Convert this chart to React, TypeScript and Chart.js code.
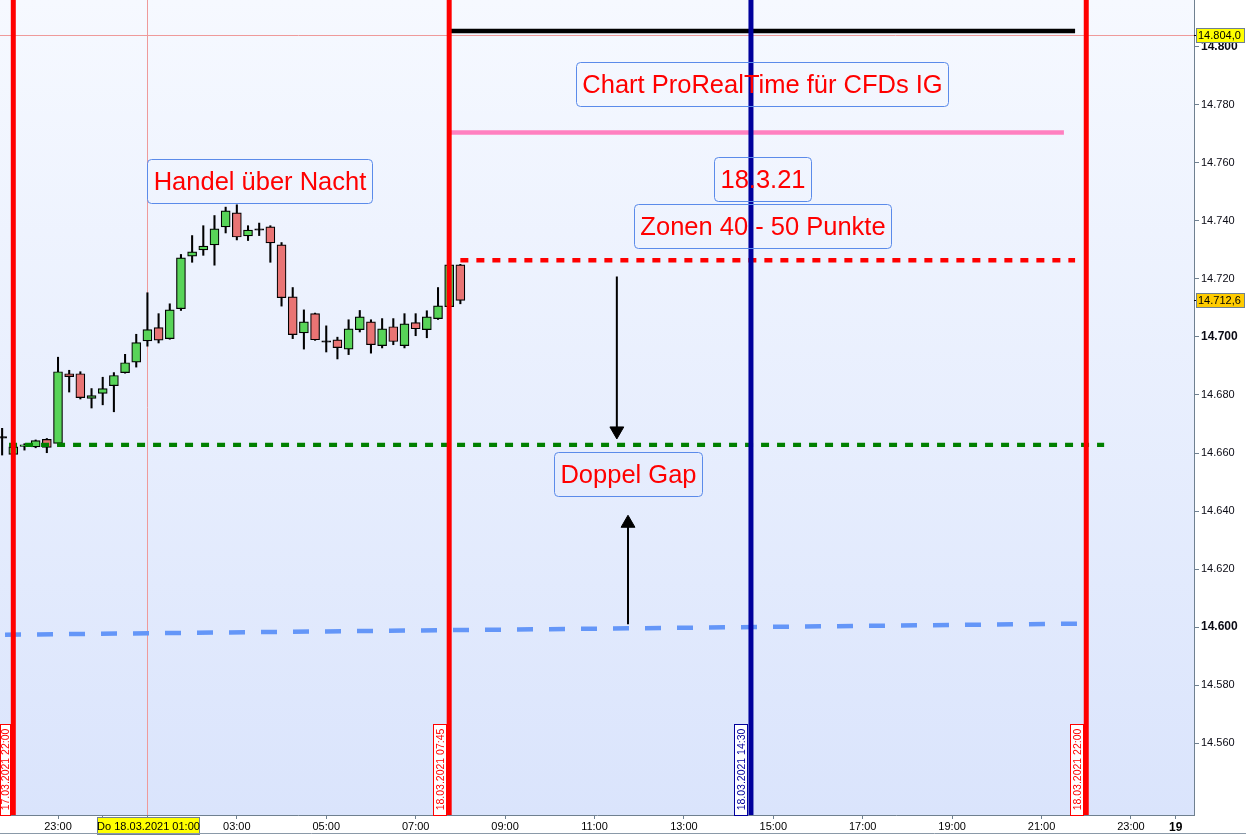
import React, { useEffect, useRef } from "react";
import { Chart, registerables } from "chart.js";

Chart.register(...registerables);

const FONT = 'Arial, "Liberation Sans", sans-serif';

// 15-minute candle slots, counted from 17.03.2021 22:00 (slot 0)
const candleSlots = [-1, 0, 1, 2, 3, 4, 5, 6, 7, 8, 9, 10, 11, 12, 13, 14, 15, 16, 17, 18, 19, 20,
  21, 22, 23, 24, 25, 26, 27, 28, 29, 30, 31, 32, 33, 34, 35, 36, 37, 38, 39, 40];
const openPrices = [14665.4, 14659.5, 14662.3, 14662.1, 14664.7, 14663.3, 14687.3, 14687.3, 14678.8, 14680.5,
  14683.2, 14687.7, 14691.3, 14698.6, 14703.2, 14699.4, 14709.7, 14727.8, 14730.0, 14731.7, 14737.9, 14742.7,
  14734.8, 14737.0, 14737.9, 14731.7, 14713.8, 14701.4, 14708.0, 14698.4, 14699.0, 14695.8, 14702.5, 14705.2,
  14697.0, 14703.5, 14697.0, 14704.9, 14702.5, 14706.3, 14710.4, 14724.8];
const highPrices = [14668.5, 14662.5, 14663.2, 14664.5, 14665.0, 14693.0, 14688.5, 14688.0, 14682.2, 14686.1,
  14687.7, 14694.0, 14700.9, 14715.2, 14708.0, 14711.4, 14728.4, 14734.9, 14738.3, 14741.8, 14744.7, 14745.5,
  14738.3, 14739.2, 14738.3, 14732.5, 14717.0, 14709.3, 14708.2, 14703.8, 14699.9, 14705.9, 14709.1, 14705.9,
  14706.3, 14706.3, 14708.0, 14708.0, 14709.0, 14717.0, 14725.0, 14725.0];
const lowPrices = [14659.3, 14659.0, 14661.0, 14661.8, 14660.1, 14662.8, 14681.0, 14678.6, 14675.5, 14676.6,
  14674.2, 14687.5, 14689.6, 14696.8, 14697.9, 14699.2, 14709.1, 14725.7, 14728.1, 14724.7, 14735.8, 14733.4,
  14733.2, 14734.9, 14725.7, 14710.6, 14699.4, 14695.8, 14698.8, 14694.8, 14692.4, 14693.9, 14701.7, 14694.4,
  14696.2, 14697.3, 14696.2, 14700.4, 14699.7, 14706.0, 14710.0, 14711.4];
const closePrices = [14665.4, 14662.1, 14662.8, 14664.3, 14661.9, 14688.0, 14686.3, 14679.1, 14679.8, 14682.2,
  14686.7, 14691.1, 14698.0, 14702.5, 14698.9, 14709.3, 14727.2, 14729.3, 14731.3, 14737.2, 14743.4, 14734.4,
  14736.8, 14737.0, 14732.4, 14713.5, 14700.8, 14705.2, 14699.0, 14698.4, 14696.3, 14702.8, 14706.9, 14697.3,
  14702.8, 14698.4, 14704.5, 14702.8, 14706.9, 14710.7, 14724.8, 14712.6];

// axes
const yTickValues = [14560, 14580, 14600, 14620, 14640, 14660, 14680, 14700, 14720, 14740, 14760, 14780, 14800];
const xTickSlots = [4, 8, 12, 20, 28, 36, 44, 52, 60, 68, 76, 84, 92, 100, 104];
const xTickLabels = ["23:00", "", "", "03:00", "05:00", "07:00", "09:00", "11:00", "13:00", "15:00", "17:00",
  "19:00", "21:00", "23:00", "19"];

// vertical time markers
const markerSlots = [0, 39, 66, 96];
const markerLabels = ["17.03.2021 22:00", "18.03.2021 07:45", "18.03.2021 14:30", "18.03.2021 22:00"];

// horizontal levels: black, pink, red dotted, green dotted
const levelStartSlots = [39, 39, 40, -0.38];
const levelEndSlots = [95, 94, 95, 97.6];
const levelPrices = [14805.4, 14770.4, 14726.4, 14662.8];

// blue dashed trend line
const trendSlots = [-0.74, 95.2];
const trendPrices = [14597.4, 14601.2];

// arrows (tail -> head centre)
const arrowSlots = [54, 55];
const arrowTailPrices = [14720.8, 14601.0];
const arrowHeadPrices = [14667.6, 14635.8];

// text notes
const noteTexts = ["Handel über Nacht", "Chart ProRealTime für CFDs IG", "18.3.21", "Zonen 40 - 50 Punkte", "Doppel Gap"];
const noteSlots = [22, 67, 67, 67, 55];
const notePrices = [14753.6, 14787.0, 14754.5, 14738.3, 14652.8];

// crosshair and current price
const crossSlot = 12;
const crossPrice = 14804.0;
const crossTimeLabel = "Do 18.03.2021 01:00";
const crossPriceLabel = "14.804,0";
const lastPriceLabel = "14.712,6";

const X_MIN = -1.19;
const X_MAX = 105.64;
const Y_MIN = 14535.3;
const Y_MAX = 14816.05;

const GREEN = "#58d458";
const RED = "#e97474";
const AXIS = "#6f8090";
const levelColors = ["#000000", "#ff80c0", "#ff0000", "#008000"];
const levelWidths = [4.5, 4.5, 4.3, 4.3];
const levelDashes = [[], [], [8, 8], [8, 8]];
const markerColors = ["#ff0000", "#ff0000", "#00009c", "#ff0000"];

function fmtPrice(v: number) {
  const r = Math.round(v);
  return Math.floor(r / 1000) + "." + String(r % 1000).padStart(3, "0");
}

const overlayPlugin = {
  id: "overlay",
  beforeDraw(chart: any) {
    const { ctx, chartArea: a, width, height } = chart;
    ctx.save();
    ctx.fillStyle = "#ffffff";
    ctx.fillRect(0, 0, width, height);
    const g = ctx.createLinearGradient(0, a.top, 0, a.bottom);
    g.addColorStop(0, "#f6f9ff");
    g.addColorStop(1, "#dae4fc");
    ctx.fillStyle = g;
    ctx.fillRect(a.left, a.top, a.right - a.left, a.bottom - a.top);
    ctx.restore();
  },
  beforeDatasetsDraw(chart: any) {
    const { ctx, chartArea: a, scales } = chart;
    const cx = Math.round(scales.x.getPixelForValue(crossSlot)) + 0.5;
    const cy = Math.round(scales.y.getPixelForValue(crossPrice)) + 0.5;
    ctx.save();
    ctx.lineWidth = 1;
    ctx.strokeStyle = "#ef9a9a";
    ctx.beginPath();
    ctx.moveTo(a.left, cy);
    ctx.lineTo(a.right, cy);
    ctx.moveTo(cx, a.top);
    ctx.lineTo(cx, a.bottom);
    ctx.stroke();
    ctx.restore();
  },
  afterDatasetsDraw(chart: any) {
    const { ctx, chartArea: a, scales } = chart;
    ctx.save();
    // notes
    ctx.font = `25.5px ${FONT}`;
    noteTexts.forEach((t, i) => {
      const cx = scales.x.getPixelForValue(noteSlots[i]);
      const cy = scales.y.getPixelForValue(notePrices[i]);
      const w = Math.round(ctx.measureText(t).width + 12);
      const h = 44;
      const x = Math.round(cx - w / 2) + 0.5;
      const y = Math.round(cy - h / 2) + 0.5;
      ctx.beginPath();
      ctx.roundRect(x, y, w, h, 4);
      ctx.strokeStyle = "#5b8bea";
      ctx.lineWidth = 1;
      ctx.stroke();
      ctx.fillStyle = "#ff0000";
      ctx.textAlign = "center";
      ctx.textBaseline = "middle";
      ctx.fillText(t, x + w / 2, y + h / 2 + 1);
    });
    // marker labels
    markerSlots.forEach((k, i) => {
      const lx = scales.x.getPixelForValue(k);
      const right = Math.round(lx - 2.5);
      const left = Math.max(0, right - 14);
      const bh = 91;
      const top = a.bottom - bh;
      const col = markerColors[i];
      ctx.fillStyle = "#ffffff";
      ctx.fillRect(left, top, right - left, bh);
      ctx.strokeStyle = col;
      ctx.lineWidth = 1;
      ctx.strokeRect(left + 0.5, top + 0.5, right - left - 1, bh);
      ctx.save();
      ctx.translate((left + right) / 2, top + bh / 2);
      ctx.rotate(-Math.PI / 2);
      ctx.font = `10.5px ${FONT}`;
      ctx.textAlign = "center";
      ctx.textBaseline = "middle";
      ctx.fillStyle = col;
      ctx.fillText(markerLabels[i], 0, 1);
      ctx.restore();
    });
    ctx.restore();
  },
  afterDraw(chart: any) {
    const { ctx, chartArea: a, scales, width } = chart;
    ctx.save();
    ctx.font = `11px ${FONT}`;
    ctx.textBaseline = "middle";
    ctx.textAlign = "left";
    const yl = (price: number, text: string, bg: string) => {
      const y = Math.round(scales.y.getPixelForValue(price));
      ctx.strokeStyle = "#000";
      ctx.beginPath();
      ctx.moveTo(a.right, y + 0.5);
      ctx.lineTo(a.right + 3, y + 0.5);
      ctx.stroke();
      ctx.fillStyle = bg;
      ctx.fillRect(a.right + 2, y - 7, 49, 14);
      ctx.strokeStyle = AXIS;
      ctx.strokeRect(a.right + 2.5, y - 6.5, 48, 14);
      ctx.fillStyle = "#000";
      ctx.fillText(text, a.right + 4, y + 0.5);
    };
    yl(crossPrice, crossPriceLabel, "#ffff00");
    yl(closePrices[closePrices.length - 1], lastPriceLabel, "#ffcc00");
    // time crosshair label
    const cx = scales.x.getPixelForValue(crossSlot);
    const w = 102;
    const bx = Math.round(cx - w / 2 + 1) + 0.5;
    ctx.fillStyle = "#ffff00";
    ctx.fillRect(bx, a.bottom + 2, w, 17);
    ctx.strokeStyle = AXIS;
    ctx.strokeRect(bx, a.bottom + 2.5, w, 17);
    ctx.fillStyle = "#000";
    ctx.textAlign = "center";
    ctx.fillText(crossTimeLabel, bx + w / 2, a.bottom + 11.5);
    // bottom frame
    ctx.strokeStyle = "#8a99a8";
    ctx.beginPath();
    ctx.moveTo(0, 833.5);
    ctx.lineTo(width, 833.5);
    ctx.stroke();
    ctx.restore();
  },
};

export default function App() {
  const ref = useRef<HTMLCanvasElement>(null);
  useEffect(() => {
    const canvas = ref.current;
    if (!canvas) return;

    const bodies = candleSlots.map((k, i) => {
      const o = openPrices[i];
      const c = closePrices[i];
      return { x: k, y: o === c ? [o - 0.25, o + 0.25] : [o, c] };
    });
    const bodyColors = candleSlots.map((_, i) =>
      closePrices[i] > openPrices[i] ? GREEN : closePrices[i] < openPrices[i] ? RED : "#000000"
    );
    const wicks = candleSlots.map((k, i) => ({ x: k, y: [lowPrices[i], highPrices[i]] }));

    const datasets: any[] = [
      {
        type: "bar",
        label: "wicks",
        data: wicks,
        backgroundColor: "#000000",
        borderWidth: 0,
        barThickness: 1.4,
        grouped: false,
        order: 5,
      },
      {
        type: "bar",
        label: "bodies",
        data: bodies,
        backgroundColor: bodyColors,
        borderColor: "#000000",
        borderWidth: 1.2,
        borderSkipped: false,
        barThickness: 9,
        grouped: false,
        order: 4,
      },
    ];
    levelPrices.forEach((p, i) => {
      datasets.push({
        type: "line",
        label: "level" + i,
        data: [
          { x: levelStartSlots[i], y: p },
          { x: levelEndSlots[i], y: p },
        ],
        borderColor: levelColors[i],
        borderWidth: levelWidths[i],
        borderDash: levelDashes[i],
        pointRadius: 0,
        fill: false,
        order: 3,
      });
    });
    datasets.push({
      type: "line",
      label: "trend",
      data: trendSlots.map((k, i) => ({ x: k, y: trendPrices[i] })),
      borderColor: "#6496f8",
      borderWidth: 4.5,
      borderDash: [16, 16],
      pointRadius: 0,
      fill: false,
      order: 3,
    });
    arrowSlots.forEach((k, i) => {
      const down = arrowHeadPrices[i] < arrowTailPrices[i];
      datasets.push({
        type: "line",
        label: "arrow" + i,
        data: [
          { x: k, y: arrowTailPrices[i] },
          { x: k, y: arrowHeadPrices[i] },
        ],
        borderColor: "#000000",
        borderWidth: 2,
        pointRadius: [0, 8],
        pointStyle: "triangle",
        pointRotation: down ? 180 : 0,
        pointBackgroundColor: "#000000",
        pointBorderColor: "#000000",
        pointBorderWidth: 1,
        fill: false,
        order: 3,
      });
    });
    markerSlots.forEach((k, i) => {
      datasets.push({
        type: "line",
        label: "marker" + i,
        data: [
          { x: k, y: Y_MIN },
          { x: k, y: Y_MAX },
        ],
        borderColor: markerColors[i],
        borderWidth: 5,
        pointRadius: 0,
        fill: false,
        order: 1,
      });
    });

    const chart = new Chart(canvas, {
      type: "bar",
      data: { datasets },
      plugins: [overlayPlugin],
      options: {
        animation: false,
        responsive: false,
        maintainAspectRatio: false,
        devicePixelRatio: 1,
        events: [],
        layout: { padding: 0, autoPadding: false },
        plugins: { legend: { display: false }, tooltip: { enabled: false }, title: { display: false } },
        scales: {
          x: {
            type: "linear",
            position: "bottom",
            min: X_MIN,
            max: X_MAX,
            offset: false,
            bounds: "data",
            grid: { display: true, drawOnChartArea: false, drawTicks: true, tickLength: 4, color: AXIS, offset: false },
            border: { display: true, color: AXIS, width: 1 },
            afterBuildTicks: (s: any) => {
              s.ticks = xTickSlots.map((v) => ({ value: v }));
            },
            afterFit: (s: any) => {
              s.height = 20;
              s.paddingLeft = 0;
              s.paddingRight = 0;
            },
            ticks: {
              autoSkip: false,
              maxRotation: 0,
              minRotation: 0,
              padding: 1,
              color: "#000000",
              font: (c: any) => {
                const idx = c.index;
                const bold = xTickLabels[idx] === "19";
                return { family: FONT, size: bold ? 12 : 11, weight: bold ? "bold" : "normal" };
              },
              callback: (_v: any, idx: number) => xTickLabels[idx],
            },
          },
          y: {
            type: "linear",
            position: "right",
            min: Y_MIN,
            max: Y_MAX,
            bounds: "data",
            beginAtZero: false,
            grid: { display: true, drawOnChartArea: false, drawTicks: true, tickLength: 5, color: AXIS },
            border: { display: true, color: AXIS, width: 1 },
            afterBuildTicks: (s: any) => {
              s.ticks = yTickValues.map((v) => ({ value: v }));
            },
            afterFit: (s: any) => {
              s.width = 52;
              s.paddingTop = 0;
              s.paddingBottom = 0;
            },
            ticks: {
              padding: 2,
              color: "#0a0a14",
              font: (c: any) => {
                const v = c.tick ? c.tick.value : 0;
                const bold = v % 100 === 0;
                return { family: FONT, size: bold ? 12 : 11, weight: bold ? "bold" : "normal" };
              },
              callback: (v: any) => fmtPrice(Number(v)),
            },
          },
        },
      } as any,
    });
    return () => chart.destroy();
  }, []);

  return (
    <div style={{ position: "fixed", left: 0, top: 0, width: 1246, height: 835, background: "#fff" }}>
      <canvas ref={ref} width={1246} height={835} style={{ display: "block", width: 1246, height: 835 }} />
    </div>
  );
}
